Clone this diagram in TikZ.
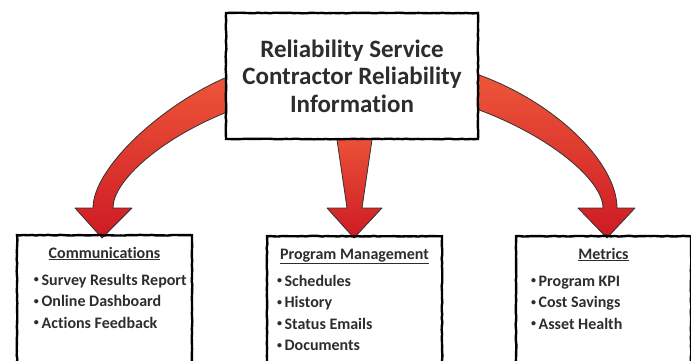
\documentclass[tikz,border=0pt]{standalone}
\usepackage{fontspec}
\setmainfont{Carlito}[Ligatures=NoCommon]
\usetikzlibrary{positioning,decorations.pathmorphing}

\definecolor{inkgray}{RGB}{45,45,45}
\definecolor{arrowtop}{RGB}{238,88,58}
\definecolor{arrowbot}{RGB}{206,26,36}

\pgfdeclarelayer{back}
\pgfsetlayers{back,main}

% small raised bullet for the lists
\newcommand{\itemdot}{\raisebox{0.28ex}{\fontsize{10}{10}\selectfont\textbullet}\,}

\tikzset{
  sketch/.style={draw=black, line width=2.4pt,
    decorate, decoration={random steps, segment length=4pt, amplitude=0.35pt}},
  titlebox/.style={sketch, fill=white, minimum width=252pt, minimum height=126pt,
    align=center, text=inkgray, font=\fontsize{25}{27.5}\selectfont\bfseries},
  listbox/.style={sketch, minimum width=175pt, minimum height=150pt, anchor=north},
  head/.style={anchor=base, inner sep=0, text=inkgray,
    font=\fontsize{16}{18}\selectfont\bfseries},
  item/.style={anchor=base west, inner sep=0, text=inkgray,
    font=\fontsize{16}{18}\selectfont\bfseries},
  fatarrow/.style={draw=black!80, line width=0.8pt, line join=round,
    top color=arrowtop, bottom color=arrowbot},
}

\begin{document}
\begin{tikzpicture}[x=1pt, y=-1pt]
  \useasboundingbox (0,0) rectangle (691,360);

  % source box
  \node[titlebox] (info) at (352,76)
    {Reliability Service\\Contractor Reliability\\Information};

  % the three target boxes
  \node[listbox] (comm) at (104.5,234) {};
  \node[listbox] (prog) at (354.5,235) {};
  \node[listbox] (metr) at (603.5,235) {};

  \node[head] (comm-head) at ([shift={(0,24)}]comm.north) {\underline{Communications}};
  \node[head] (prog-head) at ([shift={(0,24)}]prog.north) {\underline{Program Management}};
  \node[head] (metr-head) at ([shift={(0,24)}]metr.north) {\underline{Metrics}};

  \foreach \txt [count=\i from 0] in {Survey Results Report, Online Dashboard, Actions Feedback}
    \node[item] (comm-\i) at ([shift={(18,51+21.5*\i)}]comm.north west) {\itemdot\txt};
  \foreach \txt [count=\i from 0] in {Schedules, History, Status Emails, Documents}
    \node[item] (prog-\i) at ([shift={(11,51+21.5*\i)}]prog.north west) {\itemdot\txt};
  \foreach \txt [count=\i from 0] in {Program KPI, Cost Savings, Asset Health}
    \node[item] (metr-\i) at ([shift={(16,51+21.5*\i)}]metr.north west) {\itemdot\txt};

  % fat arrows, behind the boxes
  \begin{pgfonlayer}{back}
    % info -> comm
    \draw[fatarrow] ([shift={(15,-5)}]info.west) -- ([shift={(0,2)}]info.west)
      .. controls ([shift={(-66,31)}]info.west) and ([shift={(-11.5,-65)}]comm.north)
      .. ([shift={(-11.5,-26)}]comm.north) -- ([shift={(-29.5,-26)}]comm.north)
      -- ([shift={(-2.5,4)}]comm.north) -- ([shift={(27.5,-26)}]comm.north)
      -- ([shift={(8.5,-26)}]comm.north)
      .. controls ([shift={(8.5,-54)}]comm.north) and ([shift={(-62,62)}]info.west)
      .. ([shift={(0,37)}]info.west) -- ([shift={(15,31)}]info.west) -- cycle;
    % info -> prog
    \draw[fatarrow] ([shift={(-17,-14)}]info.south) -- ([shift={(-7.5,-27)}]prog.north)
      -- ([shift={(-27.5,-27)}]prog.north) -- ([shift={(-0.5,3)}]prog.north)
      -- ([shift={(27.5,-27)}]prog.north) -- ([shift={(7.5,-27)}]prog.north)
      -- ([shift={(22,-14)}]info.south) -- cycle;
    % info -> metr
    \draw[fatarrow] ([shift={(-15,-6.5)}]info.east) -- ([shift={(0,-1)}]info.east)
      .. controls ([shift={(77,27)}]info.east) and ([shift={(13.5,-72)}]metr.north)
      .. ([shift={(13.5,-27)}]metr.north) -- ([shift={(31.5,-27)}]metr.north)
      -- ([shift={(3.5,3)}]metr.north) -- ([shift={(-25.5,-27)}]metr.north)
      -- ([shift={(-0.5,-27)}]metr.north)
      .. controls ([shift={(-0.5,-55)}]metr.north) and ([shift={(70,60)}]info.east)
      .. ([shift={(0,34)}]info.east) -- ([shift={(-15,28)}]info.east) -- cycle;
  \end{pgfonlayer}
\end{tikzpicture}
\end{document}
